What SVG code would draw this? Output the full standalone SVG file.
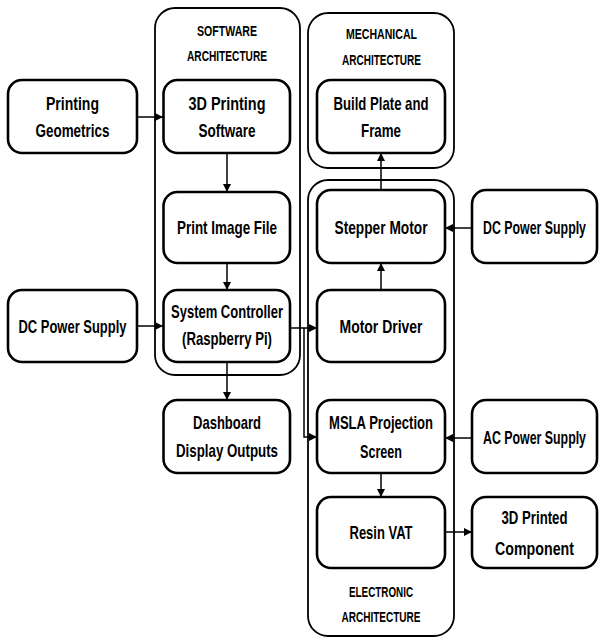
<svg xmlns="http://www.w3.org/2000/svg" width="600" height="639" viewBox="0 0 600 639">
<style>
.cont{fill:none;stroke:#000;stroke-width:1.8}
.node rect{fill:#fff;stroke:#000;stroke-width:2.6}
text{font-family:"Liberation Sans Narrow","Liberation Sans",Arial,sans-serif;font-weight:bold;fill:#000;text-anchor:middle}
.t{font-size:19px}
.h{font-size:15px}
.conn path{fill:none;stroke:#000;stroke-width:1.5}
</style>
<defs>
<marker id="ah" viewBox="0 0 10 10" refX="10" refY="5" markerWidth="9" markerHeight="8" markerUnits="userSpaceOnUse" orient="auto">
<path d="M0,0 L10,5 L0,10 Z" fill="#000"/>
</marker>
</defs>
<rect width="600" height="639" fill="#fff"/>

<g id="software-architecture">
<rect class="cont" x="155" y="8" width="145" height="367" rx="20"/>
<text class="h" x="227" y="36" textLength="60" lengthAdjust="spacingAndGlyphs">SOFTWARE</text>
<text class="h" x="227" y="61" textLength="80" lengthAdjust="spacingAndGlyphs">ARCHITECTURE</text>
</g>
<g id="mechanical-architecture">
<rect class="cont" x="308" y="13" width="146" height="155" rx="20"/>
<text class="h" x="381.5" y="39" textLength="71" lengthAdjust="spacingAndGlyphs">MECHANICAL</text>
<text class="h" x="381.5" y="65" textLength="79" lengthAdjust="spacingAndGlyphs">ARCHITECTURE</text>
</g>
<g id="electronic-architecture">
<rect class="cont" x="308" y="180" width="146" height="456" rx="20"/>
<text class="h" x="381" y="597" textLength="64" lengthAdjust="spacingAndGlyphs">ELECTRONIC</text>
<text class="h" x="381" y="622" textLength="79" lengthAdjust="spacingAndGlyphs">ARCHITECTURE</text>
</g>

<g id="connectors" class="conn">
<path d="M137,117 H163" marker-end="url(#ah)"/>
<path d="M227,153 V192" marker-end="url(#ah)"/>
<path d="M227,263 V290" marker-end="url(#ah)"/>
<path d="M137,326 H163" marker-end="url(#ah)"/>
<path d="M227,362 V400" marker-end="url(#ah)"/>
<path d="M290,328 H317" marker-end="url(#ah)"/>
<path d="M304,328 V437 H317" marker-end="url(#ah)"/>
<path d="M381,290 V263" marker-end="url(#ah)"/>
<path d="M381,190 V153" marker-end="url(#ah)"/>
<path d="M472,228 H445" marker-end="url(#ah)"/>
<path d="M472,438 H445" marker-end="url(#ah)"/>
<path d="M381,473 V497" marker-end="url(#ah)"/>
<path d="M445,532 H472" marker-end="url(#ah)"/>
</g>

<g id="printing-geometrics" class="node">
<rect x="8" y="80" width="129" height="73" rx="14"/>
<text class="t" x="72.5" y="110" textLength="53" lengthAdjust="spacingAndGlyphs">Printing</text>
<text class="t" x="72.5" y="137" textLength="74" lengthAdjust="spacingAndGlyphs">Geometrics</text>
</g>
<g id="dc-power-supply-left" class="node">
<rect x="8" y="290" width="129" height="72" rx="14"/>
<text class="t" x="72.5" y="333" textLength="108" lengthAdjust="spacingAndGlyphs">DC Power Supply</text>
</g>
<g id="printing-software" class="node">
<rect x="163.5" y="80" width="126.5" height="73" rx="14"/>
<text class="t" x="227" y="110" textLength="77" lengthAdjust="spacingAndGlyphs">3D Printing</text>
<text class="t" x="227" y="137" textLength="57" lengthAdjust="spacingAndGlyphs">Software</text>
</g>
<g id="print-image-file" class="node">
<rect x="163.5" y="192" width="126.5" height="71" rx="14"/>
<text class="t" x="227" y="234" textLength="100" lengthAdjust="spacingAndGlyphs">Print Image File</text>
</g>
<g id="system-controller" class="node">
<rect x="163.5" y="290" width="126.5" height="72" rx="14"/>
<text class="t" x="227" y="318" textLength="112" lengthAdjust="spacingAndGlyphs">System Controller</text>
<text class="t" x="227" y="345" textLength="90" lengthAdjust="spacingAndGlyphs">(Raspberry Pi)</text>
</g>
<g id="dashboard" class="node">
<rect x="163.5" y="400" width="126.5" height="73" rx="14"/>
<text class="t" x="227" y="429" textLength="68" lengthAdjust="spacingAndGlyphs">Dashboard</text>
<text class="t" x="227" y="457" textLength="102" lengthAdjust="spacingAndGlyphs">Display Outputs</text>
</g>
<g id="build-plate" class="node">
<rect x="317" y="80" width="128" height="73" rx="14"/>
<text class="t" x="381" y="110" textLength="95" lengthAdjust="spacingAndGlyphs">Build Plate and</text>
<text class="t" x="381" y="137" textLength="40" lengthAdjust="spacingAndGlyphs">Frame</text>
</g>
<g id="stepper-motor" class="node">
<rect x="317" y="190" width="128" height="73" rx="14"/>
<text class="t" x="381" y="234" textLength="93" lengthAdjust="spacingAndGlyphs">Stepper Motor</text>
</g>
<g id="motor-driver" class="node">
<rect x="317" y="290" width="128" height="72" rx="14"/>
<text class="t" x="381" y="333" textLength="83" lengthAdjust="spacingAndGlyphs">Motor Driver</text>
</g>
<g id="msla-screen" class="node">
<rect x="317" y="400" width="128" height="73" rx="14"/>
<text class="t" x="381" y="429" textLength="104" lengthAdjust="spacingAndGlyphs">MSLA Projection</text>
<text class="t" x="381" y="458" textLength="42" lengthAdjust="spacingAndGlyphs">Screen</text>
</g>
<g id="resin-vat" class="node">
<rect x="317" y="497" width="128" height="71" rx="14"/>
<text class="t" x="381" y="539" textLength="63" lengthAdjust="spacingAndGlyphs">Resin VAT</text>
</g>
<g id="dc-power-supply-right" class="node">
<rect x="472" y="190" width="125" height="73" rx="14"/>
<text class="t" x="534.5" y="234" textLength="103" lengthAdjust="spacingAndGlyphs">DC Power Supply</text>
</g>
<g id="ac-power-supply" class="node">
<rect x="472" y="400" width="125" height="73" rx="14"/>
<text class="t" x="534.5" y="444" textLength="103" lengthAdjust="spacingAndGlyphs">AC Power Supply</text>
</g>
<g id="printed-component" class="node">
<rect x="472" y="497" width="125" height="71" rx="14"/>
<text class="t" x="534.5" y="524" textLength="66" lengthAdjust="spacingAndGlyphs">3D Printed</text>
<text class="t" x="534.5" y="555" textLength="79" lengthAdjust="spacingAndGlyphs">Component</text>
</g>
</svg>
